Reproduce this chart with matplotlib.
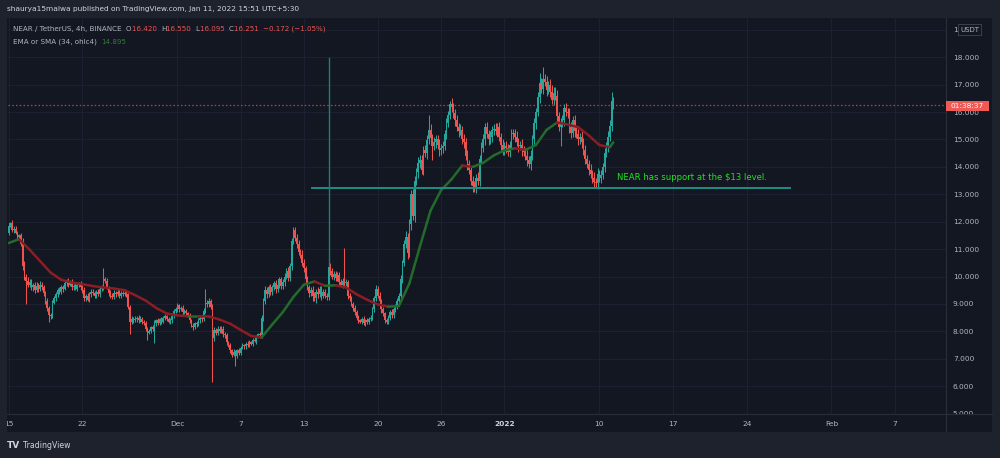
import numpy as np
import matplotlib
matplotlib.use("Agg")
import matplotlib.pyplot as plt
from matplotlib.collections import LineCollection
from matplotlib.patches import Rectangle
from matplotlib.lines import Line2D
from matplotlib.offsetbox import TextArea, HPacker, AnchoredOffsetbox

# NEAR/USDT 4h closes, one row per day from Nov 15 2021
first_open = 11.6
closes = [
    11.85, 11.95, 11.7, 11.75, 11.6, 11.45,
    11.5, 11.2, 10.4, 10.0, 9.85, 9.7,
    9.8, 9.6, 9.7, 9.5, 9.65, 9.55,
    9.7, 9.6, 9.4, 9.1, 8.85, 8.6,
    8.55, 9.05, 9.2, 9.35, 9.5, 9.45,
    9.6, 9.55, 9.75, 9.85, 9.7, 9.8,
    9.6, 9.65, 9.55, 9.7, 9.75, 9.6,
    9.5, 9.2, 9.3, 9.15, 9.35, 9.45,
    9.4, 9.3, 9.45, 9.35, 9.55, 9.6,
    9.9, 9.85, 9.6, 9.4, 9.3, 9.25,
    9.4, 9.35, 9.45, 9.3, 9.4, 9.35,
    9.4, 9.35, 8.9, 8.35, 8.45, 8.4,
    8.45, 8.5, 8.4, 8.45, 8.35, 8.3,
    8.1, 7.95, 8.0, 8.15, 8.1, 8.3,
    8.4, 8.3, 8.45, 8.35, 8.5, 8.55,
    8.45, 8.35, 8.4, 8.55, 8.75, 8.8,
    8.95, 8.8, 8.85, 8.7, 8.75, 8.65,
    8.6, 8.4, 8.2, 8.15, 8.3, 8.25,
    8.4, 8.5, 8.45, 8.75, 9.05, 9.0,
    9.1, 8.9, 7.75, 8.05, 7.95, 8.1,
    8.0, 8.1, 7.9, 7.85, 7.6, 7.5,
    7.3, 7.15, 7.25, 7.1, 7.3, 7.2,
    7.4, 7.5, 7.45, 7.55, 7.5, 7.6,
    7.55, 7.7, 7.65, 7.8, 7.9, 7.85,
    8.5, 9.1, 9.5, 9.35, 9.6, 9.45,
    9.6, 9.75, 9.55, 9.7, 9.9, 9.65,
    9.8, 10.0, 10.2, 9.95, 10.4, 11.3,
    11.7, 11.4, 11.2, 10.9, 10.8, 10.5,
    10.3, 9.9, 9.6, 9.4, 9.5, 9.3,
    9.2, 9.45, 9.35, 9.55, 9.3, 9.45,
    9.3, 9.25, 10.35, 10.2, 10.0, 10.1,
    9.95, 10.05, 9.8, 9.7, 9.85, 9.75,
    9.8, 9.3, 9.2, 9.0, 8.85, 8.7,
    8.5, 8.4, 8.35, 8.45, 8.3, 8.4,
    8.35, 8.45, 8.5, 8.8, 9.2, 9.55,
    9.3, 9.1, 8.8, 8.65, 8.4, 8.35,
    8.5, 8.7, 8.6, 8.8, 8.9, 9.1,
    9.3, 9.9, 10.5, 11.2, 11.45, 10.85,
    11.9, 13.0, 12.2, 13.5, 13.8, 14.15,
    14.25, 13.9, 14.6, 14.5, 15.0, 15.35,
    15.05, 14.75, 14.9, 15.0, 14.8, 14.6,
    14.7, 14.75, 15.2, 15.6, 15.9, 16.3,
    16.2, 15.95, 15.7, 15.45, 15.3, 15.35,
    15.0, 14.9, 14.4, 14.1, 13.9, 13.5,
    13.3, 13.25, 13.6, 13.5, 14.3, 14.7,
    15.0, 15.45, 15.2, 15.0, 15.1, 15.35,
    15.4, 15.3, 15.45, 15.1, 14.8, 14.6,
    14.75, 14.7, 14.55, 14.8, 15.2, 15.25,
    15.1, 14.9, 14.75, 14.8, 14.6, 14.55,
    14.4, 14.25, 14.1, 14.4, 15.0, 15.6,
    16.0, 16.55, 17.05, 16.85, 17.2, 17.1,
    16.8, 17.0, 16.75, 16.45, 16.7, 16.6,
    15.85, 15.45, 15.6, 15.7, 16.15, 16.0,
    15.95, 15.45, 15.25, 15.7, 15.3, 15.2,
    15.0, 15.1, 14.9, 14.6, 14.3, 14.1,
    13.9, 13.75, 13.6, 13.45, 13.4, 13.75,
    13.6, 13.7, 14.0, 14.5, 14.75, 15.1,
    15.5, 16.42, 16.251,
]

# wick length above the body / below the body
upper_wick = [
    .08, .05, .1, .08, .1, .06,
    .05, .1, .2, .15, .1, .12,
    .1, .12, .08, .1, .15, .1,
    .15, .1, .1, .08, .1, .06,
    .05, .1, .08, .1, .08, .1,
    .1, .08, .1, .05, .1, .06,
    .1, .08, .12, .08, .06, .1,
    .08, .1, .06, .1, .08, .1,
    .1, .08, .06, .1, .08, .1,
    .4, .1, .08, .06, .1, .08,
    .1, .06, .08, .1, .06, .08,
    .08, .06, .05, .05, .1, .08,
    .1, .06, .08, .1, .06, .08,
    .06, .05, .1, .06, .08, .1,
    .06, .1, .05, .08, .06, .08,
    .06, .08, .1, .06, .08, .1,
    .1, .06, .08, .1, .05, .08,
    .06, .08, .06, .1, .05, .08,
    .08, .06, .1, .1, .5, .1,
    .1, .08, .1, .1, .08, .1,
    .1, .08, .1, .06, .08, .06,
    .08, .06, .1, .08, .06, .1,
    .06, .08, .05, .06, .1, .08,
    .06, .05, .1, .06, .05, .08,
    .1, .12, .15, .1, .1, .12,
    .1, .08, .12, .1, .1, .1,
    .1, .12, .1, .15, .1, .12,
    .12, .1, .15, .12, .1, .15,
    .15, .1, .12, .1, .1, .15,
    .12, .1, .15, .1, .12, .1,
    .1, .1, .2, .15, .12, .1,
    .1, .12, .1, .1, .08, 1.2,
    .1, .08, .1, .1, .08, .1,
    .08, .1, .06, .08, .1, .06,
    .1, .06, .08, .1, .1, .15,
    .1, .12, .08, .1, .06, .08,
    .1, .08, .1, .08, .1, .1,
    .1, .15, .12, .15, .2, .15,
    .2, .15, .2, .15, .15, .2,
    .2, .2, .15, .2, .15, .55,
    .2, .15, .2, .15, .15, .2,
    .15, .2, .15, .2, .15, .1,
    .2, .15, .15, .2, .15, .2,
    .15, .2, .15, .2, .15, .15,
    .15, .2, .15, .2, .15, .2,
    .2, .15, .2, .15, .2, .15,
    .15, .2, .15, .2, .15, .2,
    .15, .2, .15, .15, .2, .15,
    .15, .2, .15, .15, .2, .15,
    .15, .2, .15, .2, .15, .2,
    .15, .2, .37, .2, .45, .2,
    .2, .15, .2, .25, .2, .2,
    .2, .15, .2, .2, .15, .2,
    .15, .2, .2, .15, .2, .15,
    .2, .15, .2, .15, .2, .15,
    .15, .2, .15, .2, .15, .2,
    .15, .2, .15, .2, .15, .2,
    .2, .32, .13,
]
lower_wick = [
    .1, .06, .08, .1, .06, .08,
    .08, .1, .15, .12, .85, .1,
    .1, .08, .12, .1, .08, .1,
    .08, .1, .1, .12, .1, .25,
    .1, .08, .06, .1, .08, .1,
    .08, .1, .06, .08, .1, .06,
    .08, .1, .06, .08, .1, .08,
    .1, .08, .1, .06, .08, .1,
    .06, .1, .08, .06, .1, .08,
    .08, .1, .06, .1, .08, .06,
    .08, .1, .06, .08, .1, .06,
    .06, .08, .1, .45, .08, .1,
    .06, .1, .08, .06, .1, .06,
    .1, .25, .06, .08, .1, .52,
    .1, .06, .08, .1, .06, .08,
    .08, .06, .1, .08, .06, .08,
    .1, .08, .06, .1, .08, .06,
    .08, .1, .06, .12, .06, .08,
    .06, .08, .1, .06, .08, .1,
    .1, .08, 1.6, .1, .08, .1,
    .08, .06, .1, .08, .1, .08,
    .1, .08, .06, .37, .08, .06,
    .08, .06, .1, .08, .06, .08,
    .06, .08, .05, .1, .06, .08,
    .1, .12, .1, .15, .1, .12,
    .12, .1, .15, .1, .12, .1,
    .1, .15, .1, .12, .1, .15,
    .12, .1, .15, .1, .12, .1,
    .15, .12, .1, .15, .12, .2,
    .1, .15, .12, .1, .15, .1,
    .1, .12, .1, .15, .1, .12,
    .12, .1, .15, .1, .12, .1,
    .1, .12, .1, .08, .1, .12,
    .08, .1, .06, .1, .08, .1,
    .1, .08, .06, .1, .08, .1,
    .1, .08, .12, .1, .08, .1,
    .1, .08, .1, .12, .1, .08,
    .12, .1, .15, .12, .15, .2,
    .15, .2, .15, .2, .15, .2,
    .2, .15, .2, .15, .2, .15,
    .2, .5, .15, .2, .15, .2,
    .15, .2, .15, .2, .15, .15,
    .2, .15, .2, .15, .2, .15,
    .15, .2, .15, .2, .15, .15,
    .2, .15, .2, .15, .2, .15,
    .15, .2, .15, .2, .15, .2,
    .2, .15, .2, .15, .2, .15,
    .15, .2, .15, .2, .15, .2,
    .2, .15, .2, .15, .2, .15,
    .15, .2, .15, .2, .15, .2,
    .2, .15, .2, .15, .2, .15,
    .2, .15, .2, .15, .2, .15,
    .2, .15, .7, .15, .2, .15,
    .15, .2, .2, .15, .2, .15,
    .2, .15, .2, .15, .2, .15,
    .2, .15, .2, .22, .15, .2,
    .15, .2, .15, .2, .15, .2,
    .15, .2, .156,
]

# EMA/SMA(34, ohlc4) read at the start of each day, plus the last bar
ma_days = list(range(58)) + [57.33]
ma_values = [
    11.22, 11.36, 10.98, 10.56, 10.14, 9.88, 9.78, 9.72, 9.65, 9.6,
    9.56, 9.5, 9.32, 9.12, 8.85, 8.65, 8.58, 8.55, 8.55, 8.54,
    8.43, 8.28, 8.05, 7.83, 7.78, 8.25, 8.7, 9.25, 9.7, 9.82,
    9.66, 9.68, 9.6, 9.35, 9.15, 8.98, 8.9, 8.92, 9.75, 11.1,
    12.4, 13.15, 13.55, 14.05, 14.0, 14.15, 14.42, 14.6, 14.68, 14.62,
    14.8, 15.35, 15.62, 15.55, 15.45, 15.15, 14.8, 14.72, 14.895,
]

tick_days = [0, 7, 16, 22, 28, 35, 41, 47, 56, 63, 70, 78, 84]
tick_labels = ["15", "22", "Dec", "7", "13", "20", "26", "2022",
               "10", "17", "24", "Feb", "7"]
price_ticks = list(range(5, 19))

support_level = 13.24
last_price = 16.251

UP = "#26a69a"
DOWN = "#ef5350"
BG = "#131722"
OUTER = "#1e222d"
GRID = "#1c2030"
TXT = "#b2b5be"

W, H = 1000, 458


def fx(px):
    return px / W


def fy(py):
    return 1 - py / H


def day_of(px):
    return (px - 8.5) / 10.55


fig = plt.figure(figsize=(10, 4.58), dpi=100, facecolor=OUTER)
fig.add_artist(Rectangle((fx(7), fy(432)), fx(992) - fx(7), fy(18) - fy(432),
                         transform=fig.transFigure, facecolor=BG,
                         edgecolor="none", zorder=-1))

ax = fig.add_axes([fx(8), fy(414), fx(946) - fx(8), fy(18) - fy(414)])
ax.set_facecolor(BG)
ax.set_xlim(day_of(8), day_of(946))
ax.set_ylim(18 - (414 - 57.3) / 27.4, 18 + (57.3 - 18) / 27.4)
for s in ax.spines.values():
    s.set_visible(False)

for d in tick_days:
    ax.axvline(d, color=GRID, lw=0.8, zorder=0)
for p in price_ticks + [19]:
    ax.axhline(p, color=GRID, lw=0.8, zorder=0)

# candles
n = len(closes)
c = np.array(closes)
o = np.concatenate([[first_open], c[:-1]])
hi = np.maximum(o, c) + np.array(upper_wick[:n])
lo = np.minimum(o, c) - np.array(lower_wick[:n])
x = np.arange(n) / 6.0
cols = np.where(c >= o, UP, DOWN)
ax.vlines(x, lo, hi, colors=cols, lw=0.75, zorder=2)
ax.bar(x, np.maximum(np.abs(c - o), 0.03), bottom=np.minimum(o, c),
       width=0.15, color=cols, linewidth=0, zorder=3)

# moving average, green while rising, red while falling
mx = np.array(ma_days, dtype=float)
my = np.array(ma_values)
segs = [[(mx[i], my[i]), (mx[i + 1], my[i + 1])] for i in range(len(mx) - 1)]
seg_cols = ["#236b2b" if my[i + 1] >= my[i] else "#8c1d24" for i in range(len(mx) - 1)]
ax.add_collection(LineCollection(segs, colors=seg_cols, linewidths=1.8,
                                 capstyle="round", zorder=4))

# drawings
ax.plot([day_of(312), day_of(790)], [support_level, support_level],
        color="#1f8f86", lw=1.4, zorder=5)
ax.plot([day_of(329), day_of(329)], [17.98, 10.4], color="#1f7f78", lw=1.0, zorder=5)
ax.text(day_of(617), 13.63, "NEAR has support at the $13 level.", color="#19e619",
        fontsize=6.1, va="center", ha="left", zorder=6)

ax.axhline(last_price, color="#b3434a", lw=0.9, ls=(0, (1.2, 1.8)), zorder=1)

ax.set_xticks([])
ax.yaxis.tick_right()
ax.set_yticks(price_ticks)
ax.set_yticklabels([f"{p}.000" for p in price_ticks])
ax.tick_params(axis="y", length=0, pad=5, labelsize=5.3, labelcolor=TXT)

# time axis strip
tax = fig.add_axes([fx(7), fy(432), fx(992) - fx(7), fy(414) - fy(432)], zorder=2)
tax.set_facecolor(BG)
tax.set_xlim(day_of(7), day_of(992))
tax.set_ylim(0, 1)
tax.set_xticks([])
tax.set_yticks([])
for s in tax.spines.values():
    s.set_visible(False)
for d, lab in zip(tick_days, tick_labels):
    tax.text(d, 0.45, lab, ha="center", va="center", fontsize=5.4,
             color="#d1d4dc" if lab == "2022" else TXT,
             fontweight="bold" if lab == "2022" else "normal", clip_on=True)

fig.add_artist(Line2D([fx(7), fx(992)], [fy(414), fy(414)], transform=fig.transFigure,
                      color="#2a2e39", lw=0.8, zorder=6))
fig.add_artist(Line2D([fx(946), fx(946)], [fy(18), fy(432)], transform=fig.transFigure,
                      color="#2a2e39", lw=0.8, zorder=6))

# last price countdown box
fig.add_artist(Rectangle((fx(946), fy(110.7)), fx(989) - fx(946), fy(100.7) - fy(110.7),
                         transform=fig.transFigure, facecolor="#f05a55",
                         edgecolor="none", zorder=7))
fig.text(fx(967.5), fy(105.7), "01:38:37", color="white", fontsize=5.3,
         ha="center", va="center", zorder=8)

# top price label peeking out from under the USDT badge
fig.text(fx(953), fy(30), "1", color=TXT, fontsize=5.3, ha="left", va="center")
fig.add_artist(Rectangle((fx(958), fy(35)), fx(981) - fx(958), fy(24) - fy(35),
                         transform=fig.transFigure, facecolor=BG,
                         edgecolor="#434651", lw=0.6, zorder=7))
fig.text(fx(969.5), fy(29.5), "USDT", color=TXT, fontsize=5.0,
         ha="center", va="center", zorder=8)

# header and legend
fig.text(fx(7), fy(9), "shaurya15malwa published on TradingView.com, Jan 11, 2022 15:51 UTC+5:30",
         color="#d1d4dc", fontsize=5.3, ha="left", va="center")


def legend_line(parts, py):
    kids = [TextArea(t, textprops=dict(color=col, fontsize=5.15)) for t, col in parts]
    box = HPacker(children=kids, align="baseline", pad=0, sep=0)
    anc = AnchoredOffsetbox(loc="center left", child=box, pad=0, borderpad=0,
                            frameon=False, bbox_to_anchor=(fx(13), fy(py)),
                            bbox_transform=fig.transFigure)
    anc.set_zorder(8)
    fig.add_artist(anc)


legend_line([("NEAR / TetherUS, 4h, BINANCE  ", TXT), ("O", TXT), ("16.420  ", DOWN),
             ("H", TXT), ("16.550  ", DOWN), ("L", TXT), ("16.095  ", DOWN),
             ("C", TXT), ("16.251  ", DOWN), ("\u22120.172 (\u22121.05%)", DOWN)], 29)
legend_line([("EMA or SMA (34, ohlc4)  ", TXT), ("14.895", "#2e7d32")], 42)

# footer logo
fig.text(fx(7), fy(445), "TV", color="#d1d4dc", fontsize=6.5, fontweight="bold",
         ha="left", va="center")
fig.text(fx(23), fy(445), "TradingView", color="#d1d4dc", fontsize=5.6,
         ha="left", va="center")

fig.savefig("out.png", dpi=100, facecolor=OUTER)
